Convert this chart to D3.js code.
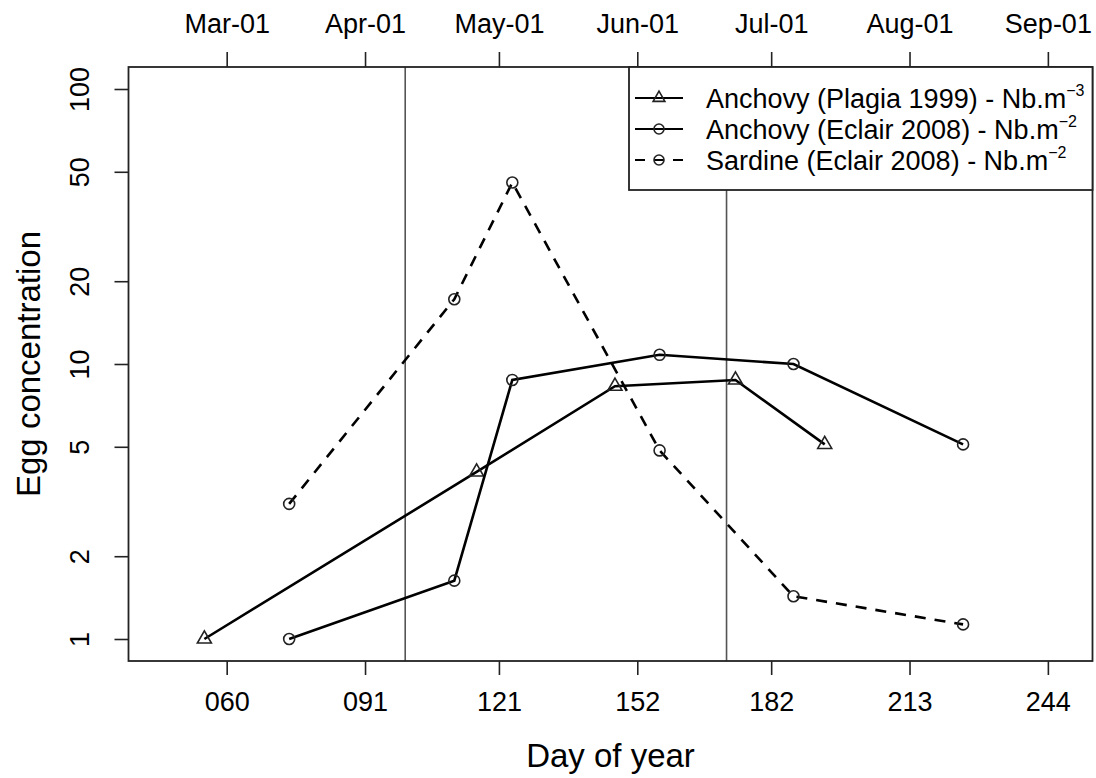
<!DOCTYPE html>
<html>
<head>
    <meta charset="utf-8">
    <title>egg concentration</title>
    <script src="https://d3js.org/d3.v7.min.js"></script>
    <style>
        body { margin: 0px; background: #fff; }
        text { font-family: "Liberation Sans", Arial, Helvetica, sans-serif; fill: #000; }
    </style>
</head>
<body>
<svg width="1096" height="778"></svg>
<script>

    // data
    var plagiaDays = [55, 116, 147, 174, 194],
        plagiaEggs = [1.0, 4.05, 8.3, 8.75, 5.1];

    var eclairDays = [74, 111, 124, 157, 187, 225],
        anchovyEggs = [1.0, 1.63, 8.75, 10.8, 10.0, 5.1],
        sardineEggs = [3.1, 17.2, 45.7, 4.85, 1.43, 1.13];

    var dayTicks = [60, 91, 121, 152, 182, 213, 244],
        dayLabels = ["060", "091", "121", "152", "182", "213", "244"],
        monthLabels = ["Mar-01", "Apr-01", "May-01", "Jun-01", "Jul-01", "Aug-01", "Sep-01"],
        eggTicks = [1, 2, 5, 10, 20, 50, 100],
        markerDays = [100, 172];

    var legendNames = ["Anchovy (Plagia 1999) - Nb.m", "Anchovy (Eclair 2008) - Nb.m", "Sardine (Eclair 2008) - Nb.m"],
        legendPowers = ["\u22123", "\u22122", "\u22122"];

    var svg = d3.select("svg"),
        pLeft = 128.5, pRight = 1092.5, pTop = 67, pBottom = 661;

    var x = d3.scaleLinear().domain([38, 254]).range([pLeft, pRight]),
        y = d3.scaleLog().domain([Math.pow(10, -0.08), Math.pow(10, 2.08)]).range([pBottom, pTop]);

    function zip(days, vals){
        return days.map(function (d, i){ return {day: d, v: vals[i]}; });
    }

    var series = [
        {pts: zip(plagiaDays, plagiaEggs), shape: "tri", dash: null},
        {pts: zip(eclairDays, anchovyEggs), shape: "circ", dash: null},
        {pts: zip(eclairDays, sardineEggs), shape: "circ", dash: "11,9"}
    ];

    // vertical marker lines
    svg.selectAll("line.mark").data(markerDays).enter().append("line")
        .attr("class", "mark")
        .attr("x1", function (d){ return x(d); })
        .attr("x2", function (d){ return x(d); })
        .attr("y1", pTop).attr("y2", pBottom)
        .attr("stroke", "#555").attr("stroke-width", 1.6);

    // axes
    var bottomAxis = d3.axisBottom(x).tickValues(dayTicks)
        .tickFormat(function (d, i){ return dayLabels[i]; }).tickSize(14).tickSizeOuter(0);
    var topAxis = d3.axisTop(x).tickValues(dayTicks)
        .tickFormat(function (d, i){ return monthLabels[i]; }).tickSize(15).tickSizeOuter(0);
    var leftAxis = d3.axisLeft(y).tickValues(eggTicks)
        .tickFormat(d3.format("d")).tickSize(14).tickSizeOuter(0);

    function style(g){
        g.select(".domain").remove();
        g.selectAll(".tick line").attr("stroke", "#222").attr("stroke-width", 1.6);
        g.selectAll(".tick text").attr("font-size", 27).attr("fill", "#000");
        g.attr("font-family", null).attr("font-size", null);
    }

    svg.append("g").attr("transform", "translate(0," + pBottom + ")").call(bottomAxis).call(style)
        .selectAll(".tick text").attr("y", 50).attr("dy", null);
    svg.append("g").attr("transform", "translate(0," + pTop + ")").call(topAxis).call(style)
        .selectAll(".tick text").attr("y", -34).attr("dy", null);
    var gy = svg.append("g").attr("transform", "translate(" + pLeft + ",0)").call(leftAxis).call(style);
    gy.selectAll(".tick text")
        .attr("x", null).attr("dy", null)
        .attr("text-anchor", "middle")
        .attr("transform", "translate(-39.5,0) rotate(-90)");

    // plot box
    svg.append("rect")
        .attr("x", pLeft).attr("y", pTop)
        .attr("width", pRight - pLeft).attr("height", pBottom - pTop)
        .attr("fill", "none").attr("stroke", "#222").attr("stroke-width", 1.8);

    // series
    var line = d3.line()
        .x(function (d){ return x(d.day); })
        .y(function (d){ return y(d.v); });

    var tri = d3.symbol(d3.symbolTriangle, 85),
        triS = d3.symbol(d3.symbolTriangle, 60);

    series.forEach(function (s){
        svg.append("path")
            .attr("d", line(s.pts))
            .attr("fill", "none").attr("stroke", "#000").attr("stroke-width", 2.6)
            .attr("stroke-dasharray", s.dash);
        var marks = svg.selectAll(null).data(s.pts).enter();
        if (s.shape === "tri"){
            marks.append("path")
                .attr("d", tri)
                .attr("transform", function (d){ return "translate(" + x(d.day) + "," + y(d.v) + ")"; })
                .attr("fill", "none").attr("stroke", "#222").attr("stroke-width", 1.6);
        } else {
            marks.append("circle")
                .attr("cx", function (d){ return x(d.day); })
                .attr("cy", function (d){ return y(d.v); })
                .attr("r", 5.5)
                .attr("fill", "none").attr("stroke", "#222").attr("stroke-width", 1.6);
        }
    });

    // legend
    var lg = svg.append("g");
    lg.append("rect")
        .attr("x", 629).attr("y", pTop)
        .attr("width", pRight - 629).attr("height", 190 - pTop)
        .attr("fill", "#fff").attr("stroke", "#222").attr("stroke-width", 1.8);

    var rows = lg.selectAll("g.row").data(series).enter().append("g")
        .attr("class", "row")
        .attr("transform", function (d, i){ return "translate(0," + (98 + i * 31) + ")"; });

    rows.append("line")
        .attr("x1", 635).attr("x2", 683).attr("y1", 0).attr("y2", 0)
        .attr("stroke", "#000").attr("stroke-width", 2.2)
        .attr("stroke-dasharray", function (d){ return d.dash ? "10,9" : null; });

    rows.each(function (d){
        var r = d3.select(this);
        if (d.shape === "tri"){
            r.append("path").attr("d", triS).attr("transform", "translate(659,0)")
                .attr("fill", "none").attr("stroke", "#222").attr("stroke-width", 1.6);
        } else {
            r.append("circle").attr("cx", 659).attr("cy", 0).attr("r", 5)
                .attr("fill", "none").attr("stroke", "#222").attr("stroke-width", 1.6);
        }
    });

    var lt = rows.append("text")
        .attr("x", 706).attr("y", 9.5)
        .attr("font-size", 27);
    lt.append("tspan").text(function (d, i){ return legendNames[i]; });
    lt.append("tspan").attr("font-size", 16).attr("dy", -12)
        .text(function (d, i){ return legendPowers[i]; });

    // axis titles
    svg.append("text")
        .attr("x", (pLeft + pRight) / 2).attr("y", 767)
        .attr("text-anchor", "middle").attr("font-size", 33)
        .text("Day of year");
    svg.append("text")
        .attr("transform", "translate(40," + (pTop + pBottom) / 2 + ") rotate(-90)")
        .attr("text-anchor", "middle").attr("font-size", 33)
        .text("Egg concentration");

</script>
</body>
</html>
